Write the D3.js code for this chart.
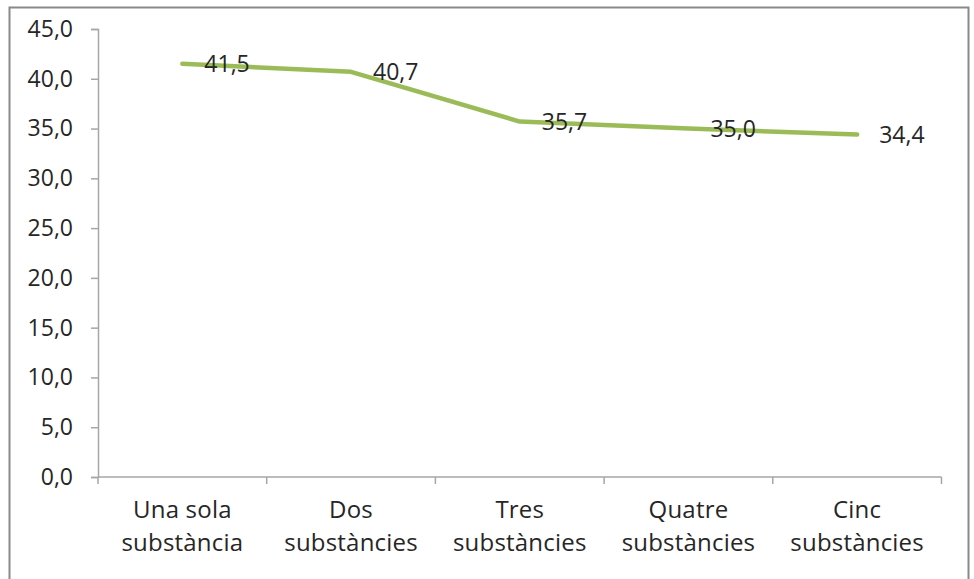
<!DOCTYPE html>
<html>
<head>
<meta charset="utf-8">
<script src="https://cdn.jsdelivr.net/npm/d3@7"></script>
<style>
  html, body { margin: 0; padding: 0; background: #fff; }
  svg { display: block; }
  text { font-family: "Open Sans", "Noto Sans", sans-serif; fill: #262626; }
</style>
</head>
<body>
<svg id="chart" width="974" height="579"></svg>
<script>
// Category labels (two lines each) and values
const categories = [
  ["Una sola", "substància"],
  ["Dos", "substàncies"],
  ["Tres", "substàncies"],
  ["Quatre", "substàncies"],
  ["Cinc", "substàncies"]
];
const values = [41.5, 40.7, 35.7, 35.0, 34.4];
const yTicks = [0, 5, 10, 15, 20, 25, 30, 35, 40, 45];

const fmt = v => v.toFixed(1).replace(".", ",");

const svg = d3.select("#chart");

// chart frame
svg.append("rect")
  .attr("x", 9.5).attr("y", 7.5)
  .attr("width", 959).attr("height", 580)
  .attr("fill", "#fff")
  .attr("stroke", "#898989")
  .attr("stroke-width", 2);

const plot = { left: 98, right: 941.5, top: 29, bottom: 477 };

const x = d3.scaleBand()
  .domain(d3.range(categories.length))
  .range([plot.left, plot.right])
  .paddingInner(0).paddingOuter(0);

const y = d3.scaleLinear()
  .domain([0, 45])
  .range([plot.bottom, plot.top]);

const axisColor = "#a6a6a6";

// Y axis
const yAxis = svg.append("g")
  .attr("transform", `translate(${plot.left},0)`)
  .call(d3.axisLeft(y).tickValues(yTicks).tickFormat(fmt).tickSizeOuter(0).tickSize(7).tickPadding(18));
yAxis.select(".domain").attr("stroke", axisColor).attr("stroke-width", 1.5);
yAxis.selectAll(".tick line").attr("stroke", axisColor).attr("stroke-width", 1.5);
yAxis.selectAll(".tick text")
  .attr("font-size", 23)
  .attr("fill", "#262626")
  .style("font-family", "'Open Sans', sans-serif");

// X axis line with ticks at category boundaries
const xg = svg.append("g");
xg.append("line")
  .attr("x1", plot.left).attr("x2", plot.right)
  .attr("y1", plot.bottom).attr("y2", plot.bottom)
  .attr("stroke", axisColor).attr("stroke-width", 1.5);
const boundaries = d3.range(categories.length + 1).map(i =>
  i < categories.length ? x(i) : x(categories.length - 1) + x.bandwidth());
xg.selectAll("line.tk").data(boundaries).join("line")
  .attr("class", "tk")
  .attr("x1", d => d).attr("x2", d => d)
  .attr("y1", plot.bottom).attr("y2", plot.bottom + 7)
  .attr("stroke", axisColor).attr("stroke-width", 1.5);

// Category labels
const labels = svg.append("g");
categories.forEach((lines, i) => {
  const cx = x(i) + x.bandwidth() / 2;
  const t = labels.append("text")
    .attr("x", cx)
    .attr("y", 518)
    .attr("text-anchor", "middle")
    .attr("font-size", 24)
    .attr("letter-spacing", 0.2);
  lines.forEach((ln, j) => {
    t.append("tspan")
      .attr("x", cx)
      .attr("dy", j === 0 ? 0 : 33)
      .text(ln);
  });
});

// Data line
const line = d3.line()
  .x((d, i) => x(i) + x.bandwidth() / 2)
  .y(d => y(d));
svg.append("path")
  .datum(values)
  .attr("d", line)
  .attr("fill", "none")
  .attr("stroke", "#9bbb59")
  .attr("stroke-width", 4.5)
  .attr("stroke-linejoin", "round")
  .attr("stroke-linecap", "round");

// Value labels to the right of each point
svg.append("g").selectAll("text").data(values).join("text")
  .attr("x", (d, i) => x(i) + x.bandwidth() / 2 + 22)
  .attr("y", d => y(d) + 8)
  .attr("font-size", 23)
  .text(fmt);
</script>
</body>
</html>
